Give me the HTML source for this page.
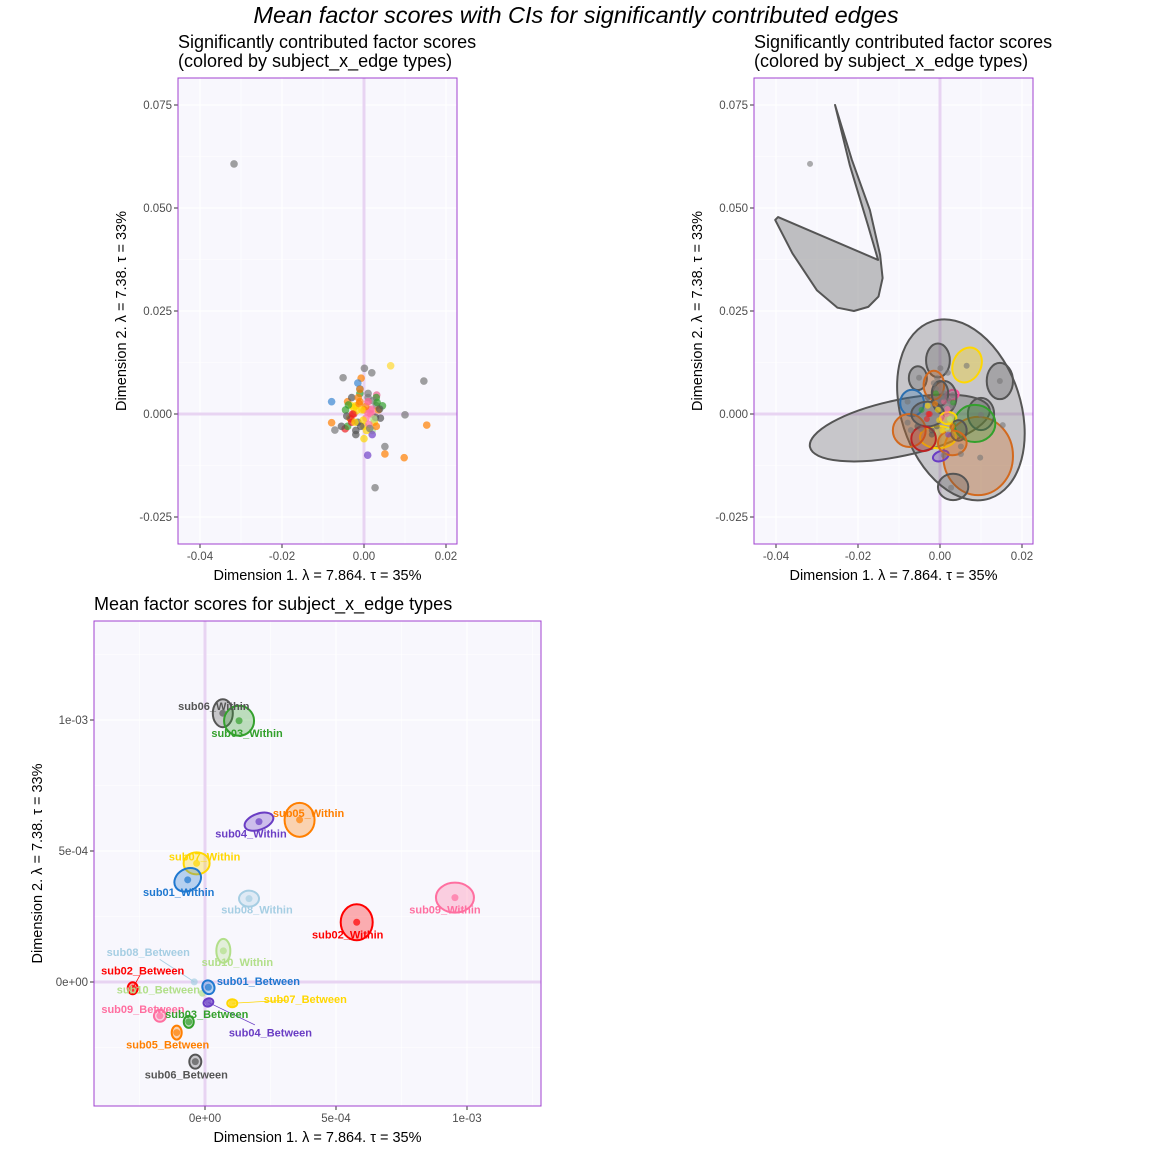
<!DOCTYPE html>
<html><head><meta charset="utf-8"><style>
html,body{margin:0;padding:0;background:#fff;}
svg{display:block;font-family:"Liberation Sans",sans-serif;}
</style></head>
<body>
<svg id="chart" width="1152" height="1152" viewBox="0 0 1152 1152" xmlns="http://www.w3.org/2000/svg">
<text x="576" y="23" text-anchor="middle" font-size="23.5" font-style="italic" fill="#000">Mean factor scores with CIs for significantly contributed edges</text>
</svg>
<script>
// ---- data ----
const topPtX=[-0.0317,0.0001,0.0019,0.0065,-0.0051,0.0146,-0.0007,-0.0015,-0.0010,-0.0079,0.0031,0.0100,0.0153,-0.0079,-0.0071,-0.0046,0.0051,0.0051,0.0009,0.0098,0.0027,
-0.004,-0.003,-0.002,-0.001,0.000,0.001,0.002,0.003,-0.0035,-0.0025,-0.0015,0.0005,0.0015,0.0025,-0.004,-0.002,0.000,0.002,0.004,-0.003,-0.001,0.001,0.003,-0.0045,0.0035,-0.002,0.0,0.002,-0.001,0.001,-0.003,0.003,0.0045,-0.0055,
-0.0025,-0.0012,0.0008,0.0018,0.0028,-0.0032,-0.0018,-0.0002,0.0012,0.0022,-0.0038,-0.0008,0.0004,0.0016,-0.0022,0.0032,-0.0042,0.0006,-0.0014,0.0024,0.0038,-0.0028,0.0010,-0.0005,0.0014];
const topPtY=[0.0607,0.0111,0.0100,0.0117,0.0088,0.0080,0.0087,0.0075,0.0061,0.0030,0.0046,-0.0002,-0.0027,-0.0021,-0.0039,-0.0036,-0.0079,-0.0097,-0.0100,-0.0106,-0.0179,
0.003,0.004,0.002,0.005,0.001,0.003,0.000,0.002,-0.001,0.000,-0.002,-0.001,0.001,-0.002,-0.003,-0.004,-0.003,-0.004,-0.001,0.002,0.003,0.004,0.004,0.001,0.001,-0.005,-0.006,-0.005,0.006,0.005,-0.002,-0.003,0.002,-0.003,
0.0015,0.0025,0.0005,0.0012,-0.0008,-0.0012,0.0008,-0.0015,-0.0025,0.0032,0.0022,-0.0030,0.0018,0.0000,-0.0020,0.0028,-0.0005,-0.0040,0.0040,-0.0012,0.0012,0.0000,0.0030,0.0010,-0.0035];
const topPtC=["#777","#777","#777","#ffd92f","#777","#777","#ff7f00","#3a86d0","#3a86d0","#3a86d0","#e8608a","#777","#ff7f00","#ff7f00","#777","#ee2020","#777","#ff7f00","#7040c8","#ff7f00","#777",
"#ff7f00","#555","#ffd700","#33a02c","#ff7f00","#e8608a","#ff6fa0","#777","#ffd700","#ee2020","#555","#ff6fa0","#ff6fa0","#ffd700","#33a02c","#555","#ffd700","#b2df8a","#555","#ffd700","#ff7f00","#777","#33a02c","#33a02c","#ff7f00","#555","#ffd700","#7040c8","#ff7f00","#777","#ee2020","#ff7f00","#33a02c","#555",
"#ffd700","#ff7f00","#ff6fa0","#ff6fa0","#555","#ee2020","#ffd700","#ffd700","#ff6fa0","#777","#33a02c","#555","#ff7f00","#ff6fa0","#ffd700","#33a02c","#555","#ffd700","#ff7f00","#b2df8a","#555","#ee2020","#ff6fa0","#ffd700","#777"];
// CI ellipses (top-right): center, radii (data units), angle, color
const ciX=[0.0051,-0.0098,0.0093,0.0032,0.0146,0.0100,0.0066,-0.0054,-0.0005,-0.0068,-0.0005,0.0029,0.0002,0.0085,-0.0075,0.0010,-0.0030,0.0020,0.0045,-0.0015,0.0000,-0.0040,0.0030];
const ciY=[0.0010,-0.0034,-0.0102,-0.0177,0.0080,0.0000,0.0119,0.0087,0.0130,0.0027,-0.0056,0.0046,-0.0102,-0.0023,-0.0040,0.0040,0.0000,-0.0010,-0.0040,0.0070,0.0050,-0.0060,-0.0070];
const ciRX=[0.0146,0.0224,0.0085,0.0037,0.0032,0.0032,0.0034,0.0022,0.0029,0.0029,0.0044,0.0017,0.0020,0.0050,0.0040,0.0030,0.0040,0.0020,0.0020,0.0025,0.0020,0.0030,0.0035];
const ciRY=[0.0226,0.0068,0.0095,0.0032,0.0044,0.0039,0.0044,0.0029,0.0041,0.0032,0.0027,0.0012,0.0012,0.0045,0.0040,0.0040,0.0030,0.0015,0.0025,0.0035,0.0030,0.0030,0.0030];
const ciA=[-18,-12,0,0,0,0,25,0,0,0,0,-20,-20,0,0,0,0,0,0,0,0,0,0];
const ciC=["#555","#555","#d2691e","#555","#555","#555","#ffd700","#555","#555","#2b6fb0","#ffd700","#ff4f9a","#6a3dc4","#33a02c","#d2691e","#555","#555","#ffd700","#555","#d2691e","#555","#b22","#d2691e"];
const wedgeX=[-0.0256,-0.0215,-0.0171,-0.0146,-0.0140,-0.0150,-0.0175,-0.0210,-0.0250,-0.0300,-0.0360,-0.0402,-0.0395,-0.0151,-0.0176,-0.0220];
const wedgeY=[0.0750,0.0617,0.0495,0.0386,0.0330,0.0285,0.0260,0.0250,0.0258,0.0300,0.0390,0.0471,0.0478,0.0374,0.0459,0.0604];
// bottom panel
const grpNames=["sub06_Within","sub03_Within","sub05_Within","sub04_Within","sub07_Within","sub01_Within","sub08_Within","sub09_Within","sub02_Within","sub10_Within","sub08_Between","sub02_Between","sub10_Between","sub01_Between","sub04_Between","sub07_Between","sub09_Between","sub03_Between","sub05_Between","sub06_Between"];
const grpX=[0.68e-4,1.30e-4,3.61e-4,2.06e-4,-0.32e-4,-0.66e-4,1.68e-4,9.54e-4,5.79e-4,0.70e-4,-0.41e-4,-2.76e-4,-0.10e-4,0.13e-4,0.13e-4,1.04e-4,-1.72e-4,-0.62e-4,-1.08e-4,-0.37e-4];
const grpY=[10.26e-4,9.97e-4,6.19e-4,6.12e-4,4.53e-4,3.90e-4,3.18e-4,3.22e-4,2.28e-4,1.19e-4,0.004e-4,-0.24e-4,-0.43e-4,-0.20e-4,-0.78e-4,-0.81e-4,-1.29e-4,-1.52e-4,-1.93e-4,-3.04e-4];
const grpC=["#555555","#33a02c","#ff7f00","#6a3dc4","#ffd700","#1f78d0","#a6cee3","#ff6fa0","#ff0000","#b2df8a","#a6cee3","#ff0000","#b2df8a","#1f78d0","#6a3dc4","#ffd700","#ff6fa0","#33a02c","#ff7f00","#555555"];
const ellRX=[10,15,15,15,13,14,10,19,16,7,0,5,0,6,5,5,6,5,5,6];
const ellRY=[14,15,17,8,11,11,8,15,18,12,0,6,0,7,4,4,6,6,7,7];
const ellA=[0,0,0,-20,0,-30,0,0,0,0,0,0,0,-20,-20,0,0,0,0,0];
const lblDX=[-9,8,9,-8,8,-9,8,-10,-9,14,-46,10,-44,50,62,73,-17,18,-9,-9];
const lblDY=[-7,12,-7,12,-7,12,11,12,12,11,-30,-18,-4,-6,30,-4,-7,-8,12,13];
const lblLine=[0,0,0,0,0,0,0,0,0,0,1,1,0,0,1,1,0,0,0,0];

const NS="http://www.w3.org/2000/svg";
const svg=document.getElementById('chart');
function mk(tag,attrs,parent){const e=document.createElementNS(NS,tag);for(const k in attrs)e.setAttribute(k,attrs[k]);(parent||svg).appendChild(e);return e;}

function panel(name,L,T,R,B,xs,ys,xTicks,xLab,yTicks,yLab,xMin,yMin,title){
  const g=mk('g',{});
  
  
  const bg=mk('rect',{x:L,y:T,width:R-L,height:B-T,fill:'#f8f7fd'},g);
  
  
  xMin.forEach(v=>mk('line',{x1:xs(v),x2:xs(v),y1:T,y2:B,stroke:'#fff','stroke-width':0.6},g));
  yMin.forEach(v=>mk('line',{x1:L,x2:R,y1:ys(v),y2:ys(v),stroke:'#fff','stroke-width':0.6},g));
  xTicks.forEach(v=>mk('line',{x1:xs(v),x2:xs(v),y1:T,y2:B,stroke:'#fff','stroke-width':1.2},g));
  yTicks.forEach(v=>mk('line',{x1:L,x2:R,y1:ys(v),y2:ys(v),stroke:'#fff','stroke-width':1.2},g));
  mk('line',{x1:xs(0),x2:xs(0),y1:T,y2:B,stroke:'#e8d4f2','stroke-width':3},g);
  mk('line',{x1:L,x2:R,y1:ys(0),y2:ys(0),stroke:'#e8d4f2','stroke-width':3},g);
  xTicks.forEach((v,i)=>{
    mk('line',{x1:xs(v),x2:xs(v),y1:B,y2:B+4,stroke:'#333'},g);
    const t=mk('text',{x:xs(v),y:B+16,'text-anchor':'middle','font-size':11.5,fill:'#4d4d4d'},g);
    t.textContent=xLab[i];
    
    
  });
  yTicks.forEach((v,i)=>{
    mk('line',{x1:L-4,x2:L,y1:ys(v),y2:ys(v),stroke:'#333'},g);
    const t=mk('text',{x:L-6,y:ys(v)+4,'text-anchor':'end','font-size':11.5,fill:'#4d4d4d'},g);
    t.textContent=yLab[i];
    
    
  });
  const xt=mk('text',{x:(L+R)/2,y:B+36,'text-anchor':'middle','font-size':14.5,fill:'#000','xml:space':'preserve'},g);
  xt.textContent='Dimension 1.   λ = 7.864.   τ = 35%';
  
  
  const cy=(T+B)/2;
  const yt=mk('text',{x:0,y:0,transform:`translate(${L-52},${cy}) rotate(-90)`,'text-anchor':'middle','font-size':14.5,fill:'#000'},g);
  yt.textContent='Dimension 2.   λ = 7.38.   τ = 33%';
  
  
  title.forEach((s,i)=>{
    const tt=mk('text',{x:L,y:T-30+i*19+(title.length==1?19:0),'font-size':18,fill:'#000'},g);
    tt.textContent=s;
    
    
  });
  return g;
}
function border(L,T,R,B){const r=mk('rect',{x:L,y:T,width:R-L,height:B-T,fill:'none',stroke:'#a040d0','stroke-width':1});
  
  }

const topXT=[-0.04,-0.02,0,0.02], topXL=['-0.04','-0.02','0.00','0.02'];
const topYT=[-0.025,0,0.025,0.05,0.075], topYL=['-0.025','0.000','0.025','0.050','0.075'];
const topXm=[-0.03,-0.01,0.01], topYm=[-0.0125,0.0125,0.0375,0.0625];
const ttl=['Significantly contributed factor scores','(colored by subject_x_edge types)'];

// top-left
{const L=178,T=78,R=457,B=544;
 const xs=v=>364+v*4100, ys=v=>414-v*4120;
 const g=panel('top-left-panel',L,T,R,B,xs,ys,topXT,topXL,topYT,topYL,topXm,topYm,ttl);
 topPtX.forEach((x,i)=>{const c=mk('circle',{cx:xs(x),cy:ys(topPtY[i]),r:3.8,fill:topPtC[i],'fill-opacity':0.7},g);
   
   });
 border(L,T,R,B);}
// top-right
{const L=754,T=78,R=1033,B=544;
 const xs=v=>940+v*4100, ys=v=>414-v*4120;
 const g=panel('top-right-panel',L,T,R,B,xs,ys,topXT,topXL,topYT,topYL,topXm,topYm,ttl);
 const wp=mk('polygon',{points:wedgeX.map((x,i)=>xs(x)+','+ys(wedgeY[i])).join(' '),fill:'#777','fill-opacity':0.45,stroke:'#555','stroke-width':2,'stroke-linejoin':'round'},g);
 
 
 ciX.forEach((x,i)=>{const e=mk('ellipse',{cx:0,cy:0,rx:ciRX[i]*4100,ry:ciRY[i]*4120,transform:`translate(${xs(x)},${ys(ciY[i])}) rotate(${ciA[i]})`,fill:ciC[i],'fill-opacity':0.3,stroke:ciC[i],'stroke-width':2},g);
   
   });
 topPtX.forEach((x,i)=>{if(i>20&&i%2)return;const c=mk('circle',{cx:xs(x),cy:ys(topPtY[i]),r:3,fill:i<21?'#777':topPtC[i],'fill-opacity':0.6},g);
   
   });
 border(L,T,R,B);}
// bottom
{const L=94,T=621,R=541,B=1106;
 const xs=v=>205+v/5e-4*131, ys=v=>982-v/5e-4*131;
 const g=panel('bottom-panel',L,T,R,B,xs,ys,[0,5e-4,1e-3],['0e+00','5e-04','1e-03'],[0,5e-4,1e-3],['0e+00','5e-04','1e-03'],[-2.5e-4,2.5e-4,7.5e-4,1.25e-3],[-2.5e-4,2.5e-4,7.5e-4,1.25e-3],['Mean factor scores for subject_x_edge types']);
 grpX.forEach((x,i)=>{
   const px=xs(x),py=ys(grpY[i]);
   if(ellRX[i]>0){const e=mk('ellipse',{cx:0,cy:0,rx:ellRX[i],ry:ellRY[i],transform:`translate(${px},${py}) rotate(${ellA[i]})`,fill:grpC[i],'fill-opacity':0.3,stroke:grpC[i],'stroke-width':2},g);
     
     }
   const c=mk('circle',{cx:px,cy:py,r:3.5,fill:grpC[i],'fill-opacity':0.7},g);
   
   
   if(lblLine[i])mk('line',{x1:px,y1:py,x2:px+lblDX[i]*0.75,y2:py+lblDY[i]*0.75,stroke:grpC[i],'stroke-width':0.8},g);
 });
 grpX.forEach((x,i)=>{
   const t=mk('text',{x:xs(x)+lblDX[i],y:ys(grpY[i])+lblDY[i]+4,'text-anchor':'middle','font-size':11,'font-weight':'bold',fill:grpC[i]},g);
   t.textContent=grpNames[i];
   
   
 });
 border(L,T,R,B);}
</script>
</body></html>
